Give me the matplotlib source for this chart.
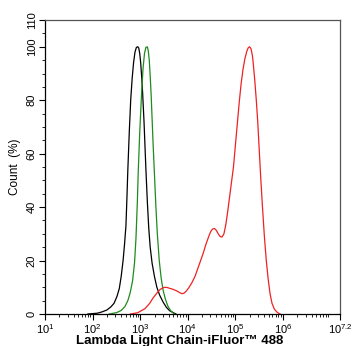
import numpy as np
import matplotlib
matplotlib.use("Agg")
import matplotlib.pyplot as plt
from matplotlib.ticker import FixedLocator, LogLocator, MultipleLocator, NullFormatter

plt.rcParams['font.family'] = ['Liberation Sans', 'DejaVu Sans']

# curves: log10(intensity) and count (%)
black_logx = [1.9, 2.1, 2.2, 2.3, 2.38, 2.45, 2.51, 2.56, 2.6, 2.64, 2.67, 2.7, 2.72, 2.74, 2.77, 2.8, 2.83,
              2.86, 2.89, 2.92, 2.95, 2.97, 2.99, 3.01, 3.03, 3.05, 3.08, 3.1, 3.12, 3.15, 3.18, 3.21, 3.25,
              3.3, 3.35, 3.41, 3.48, 3.55, 3.62, 3.75]
black_y = [0, 0.3, 0.8, 1.5, 2.6, 4, 6.5, 9.5, 14, 20, 26, 33, 43, 54, 68, 80, 88,
           94, 98, 99.8, 100, 99.5, 97.5, 94, 89, 83, 72, 63, 54, 42, 32, 25, 19,
           14, 10, 7, 4.5, 2.5, 1.2, 0]

green_logx = [2.35, 2.5, 2.6, 2.68, 2.74, 2.79, 2.84, 2.88, 2.91, 2.94, 2.96, 2.99, 3.03, 3.06, 3.09,
              3.12, 3.15, 3.17, 3.19, 3.21, 3.23, 3.25, 3.27, 3.3, 3.33, 3.36, 3.4, 3.44, 3.48, 3.53,
              3.58, 3.64, 3.72]
green_y = [0, 0.5, 1.3, 2.8, 5, 8, 12.5, 19, 28, 42, 54, 68, 83, 92, 97.5,
           99.8, 100, 98.5, 95, 89, 82, 73, 64, 52, 40, 30, 20, 13.5, 9, 5.5,
           3, 1.2, 0]

red_logx = [2.8, 2.95, 3.1, 3.2, 3.27, 3.35, 3.42, 3.48, 3.52, 3.57, 3.62, 3.68, 3.75, 3.8, 3.84, 3.88,
            3.92, 3.97, 4.02, 4.08, 4.15, 4.2, 4.25, 4.32, 4.38, 4.44, 4.48, 4.52, 4.56, 4.6, 4.64, 4.68,
            4.72, 4.76, 4.8, 4.84, 4.88, 4.92, 4.96, 5.0, 5.04, 5.08, 5.12, 5.16, 5.2, 5.24, 5.27, 5.3,
            5.33, 5.36, 5.38, 5.41, 5.44, 5.47, 5.5, 5.53, 5.57, 5.61, 5.65, 5.69, 5.73, 5.77, 5.82, 5.88,
            5.94]
red_y = [0, 0.5, 2, 4, 6, 7.8, 9.2, 9.8, 10, 9.9, 9.6, 9.3, 8.8, 8.3, 7.9, 7.6,
         7.8, 8.6, 9.8, 11.5, 14, 16.5, 19, 22.5, 26, 29, 30.8, 31.8, 32, 31.3, 30, 29,
         28.8, 30, 33.5, 38.5, 44, 49.5, 55, 63, 71, 79, 86, 91.5, 95.5, 98.3, 99.6, 100,
         99.2, 96.5, 93, 87, 80, 72, 62, 52, 40, 29, 20, 13, 7.5, 4, 1.8, 0.6,
         0]

xtick_exp = [1, 2, 3, 4, 5, 6, 7.2]
xtick_labels = [r'$\mathregular{10^{%s}}$' % e for e in ['1', '2', '3', '4', '5', '6', '7.2']]

fig = plt.figure(figsize=(3.52, 3.46), dpi=100)
ax = fig.add_axes([0.128, 0.0925, 0.838, 0.8495])

ax.plot(10 ** np.array(black_logx), black_y, color='black', lw=0.9)
ax.plot(10 ** np.array(green_logx), green_y, color='#1f8a1f', lw=0.9)
ax.plot(10 ** np.array(red_logx), red_y, color='#ee2222', lw=0.9)

ax.set_xscale('log')
ax.set_xlim(10, 10 ** 7.2)
ax.set_ylim(0, 110)

ax.xaxis.set_major_locator(FixedLocator([10 ** e for e in xtick_exp]))
ax.set_xticklabels(xtick_labels)
ax.xaxis.set_minor_locator(LogLocator(base=10, subs=np.arange(2, 10), numticks=20))
ax.xaxis.set_minor_formatter(NullFormatter())

ax.set_yticks([0, 20, 40, 60, 80, 100, 110])
ax.yaxis.set_minor_locator(MultipleLocator(5))
plt.setp(ax.get_yticklabels(), rotation=90, va='center')

ax.tick_params(which='major', direction='out', length=4, width=0.8, labelsize=8, colors='black', pad=2)
ax.tick_params(which='minor', direction='out', length=2, width=0.6)

ax.spines['top'].set_color('#555555')
ax.spines['right'].set_color('#555555')
for s in ax.spines.values():
    s.set_linewidth(0.9)

ax.set_ylabel('Count  (%)', fontsize=8.5)
ax.set_xlabel('Lambda Light Chain-iFluor\u2122 488', fontsize=9.5, fontweight='bold')
ax.xaxis.set_label_coords(0.455, -0.07)

fig.savefig('out.png', dpi=100)
